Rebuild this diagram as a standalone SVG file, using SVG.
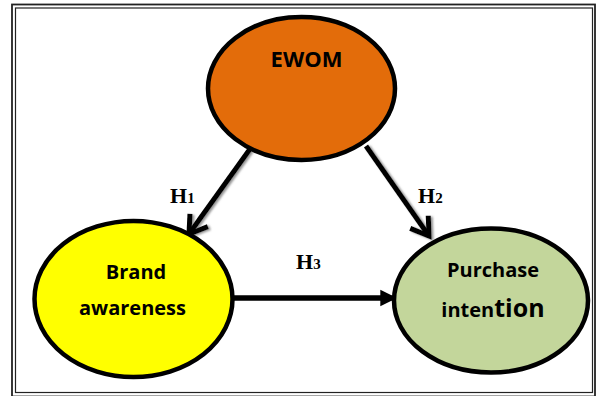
<svg xmlns="http://www.w3.org/2000/svg" width="596" height="396" viewBox="0 0 596 396">
  <style>
    .node { stroke: #000; stroke-width: 4.5; }
    .lbl { font-family: "Open Sans", "Liberation Sans", sans-serif; font-weight: bold; fill: #000; text-anchor: middle; }
    .hyp { font-family: "Liberation Serif", "Times New Roman", serif; font-weight: bold; fill: #000; }
    .conn { stroke: #000; stroke-width: 5; fill: none; }
    .frame { fill: none; stroke: #222; }
  </style>
  <defs>
    <marker id="open" markerUnits="userSpaceOnUse" markerWidth="30" markerHeight="30" viewBox="-22 -15 30 30" refX="0" refY="0" orient="auto">
      <path d="M -17 -11 L 0 0 L -17 11" fill="none" stroke="#000" stroke-width="5" stroke-linejoin="miter"/>
    </marker>
    <marker id="solid" markerUnits="userSpaceOnUse" markerWidth="20" markerHeight="20" viewBox="-16 -8 18 16" refX="0" refY="0" orient="auto">
      <path d="M -15 -7.5 L 0 0 L -15 7.5 Z" fill="#000"/>
    </marker>
    <filter id="shadow" x="-20%" y="-20%" width="140%" height="140%">
      <feDropShadow dx="2" dy="1" stdDeviation="1" flood-color="#777" flood-opacity="0.8"/>
    </filter>
  </defs>

  <rect class="frame" x="12" y="4.5" width="583" height="392" stroke-width="1.8"/>
  <rect class="frame" x="15.5" y="8" width="577" height="384.5" stroke-width="1.2"/>

  <g id="connectors">
    <g filter="url(#shadow)">
      <line class="conn" x1="250" y1="149" x2="189" y2="234" marker-end="url(#open)"/>
      <line class="conn" x1="366" y1="146" x2="429" y2="236" marker-end="url(#open)"/>
    </g>
    <line class="conn" x1="232" y1="298" x2="384" y2="298"/>
    <line class="conn" x1="232" y1="298" x2="397" y2="298" stroke="none" marker-end="url(#solid)"/>
    <text class="hyp" x="170" y="202.5" font-size="22">H<tspan font-size="15">1</tspan></text>
    <text class="hyp" x="418" y="203" font-size="22">H<tspan font-size="15">2</tspan></text>
    <text class="hyp" x="296" y="269" font-size="22">H<tspan font-size="15">3</tspan></text>
  </g>

  <g id="ewom">
    <ellipse class="node" cx="301.5" cy="88.5" rx="93.5" ry="71.5" fill="#E36C0A"/>
    <text class="lbl" x="306.5" y="67" font-size="22">EWOM</text>
  </g>

  <g id="brand-awareness">
    <ellipse class="node" cx="133.5" cy="299" rx="99" ry="78" fill="#FFFF00"/>
    <text class="lbl" x="136" y="279" font-size="20">Brand</text>
    <text class="lbl" x="132.5" y="315" font-size="20">awareness</text>
  </g>

  <g id="purchase-intention">
    <ellipse class="node" cx="491" cy="300.5" rx="97" ry="72" fill="#C3D69B"/>
    <text class="lbl" x="493" y="276.5" font-size="20">Purchase</text>
    <text class="lbl" x="493" y="316.5" font-size="20">inten<tspan font-size="25">tion</tspan></text>
  </g>
</svg>
